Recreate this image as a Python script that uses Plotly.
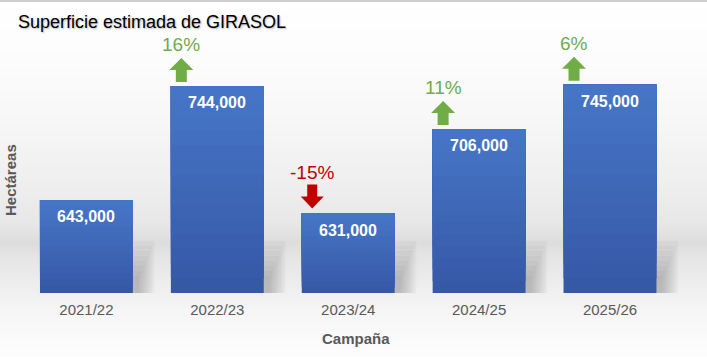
import plotly.graph_objects as go

# ---------------- data ----------------
campaigns = ["2021/22", "2022/23", "2023/24", "2024/25", "2025/26"]
hectares = [643000, 744000, 631000, 706000, 745000]
pct_change = [None, 16, -15, 11, 6]

title_text = "Superficie estimada de GIRASOL"
x_title = "Campaña"
y_title = "Hectáreas"

# ---------------- layout constants ----------------
W, H = 707, 357
ML, MR, MT, MB = 21, 29, 30, 64
PLOT_H = H - MT - MB
PLOT_W = W - ML - MR
Y_MIN, Y_MAX = 560600, 793600


def py(pix):  # page pixel y -> paper y
    return (H - MB - pix) / PLOT_H


def px(pix):  # page pixel x -> paper x
    return (pix - ML) / PLOT_W


fig = go.Figure()

# ---- bars with vertical gradient (overlayed slices) ----
N = 14
top_c = (70, 117, 199)
bot_c = (54, 89, 166)
for k in range(N):
    t = k / (N - 1)
    col = tuple(round(bot_c[i] + (top_c[i] - bot_c[i]) * t) for i in range(3))
    bases = [Y_MIN + (v - Y_MIN) * k / N for v in hectares]
    fig.add_trace(go.Bar(
        x=campaigns, y=[v - b for v, b in zip(hectares, bases)], base=bases,
        marker=dict(color="rgb(%d,%d,%d)" % col, line=dict(width=0)),
        width=0.71, hoverinfo="skip", showlegend=False,
    ))

shapes = []
# ---- background gradient bands ----
stops = [(0, 255), (60, 252), (120, 247), (180, 239), (225, 231), (243, 220),
         (255, 228), (275, 234), (293, 240), (315, 246), (357, 253)]


def shade(p):
    for (a, ca), (b, cb) in zip(stops[:-1], stops[1:]):
        if a <= p <= b:
            return ca + (cb - ca) * (p - a) / (b - a)
    return 255


step = 3
for p in range(0, H, step):
    c = round(shade(p + step / 2))
    shapes.append(dict(type="rect", xref="paper", yref="paper",
                       x0=px(0), x1=px(W), y0=py(p + step), y1=py(p),
                       fillcolor="rgb(%d,%d,%d)" % (c, c, c), line=dict(width=0),
                       layer="below"))
# top border line
shapes.append(dict(type="rect", xref="paper", yref="paper",
                   x0=px(0), x1=px(W), y0=py(2), y1=py(0),
                   fillcolor="#CFCFCF", line=dict(width=0), layer="below"))

# ---- soft shadows to the right of bars ----
for cat in campaigns:
    for j in range(8):
        shapes.append(dict(type="rect", xref="x", yref="y",
                           xsizemode="pixel", ysizemode="pixel",
                           xanchor=cat, yanchor=Y_MIN,
                           x0=46, x1=68 - 2.2 * j, y0=0, y1=52 - 5 * j,
                           fillcolor="rgba(60,60,60,0.045)", line=dict(width=0),
                           layer="below"))

# ---- arrows & labels ----
OFF = -36  # horizontal offset (px) of arrows / percent labels from bar centre
up_pts = [(-5.5, 4), (5.5, 4), (5.5, 16), (12, 16), (0, 28), (-12, 16), (-5.5, 16)]
down_pts = [(0, 5), (11.5, 17), (5, 17), (5, 29), (-5, 29), (-5, 17), (-11.5, 17)]


def path_of(pts):
    return "M " + " L ".join("%g,%g" % (x + OFF, y) for x, y in pts) + " Z"


GREEN = "#70AD47"
GREEN_TXT = "#6FAC4C"
RED = "#C00000"

annotations = []
for cat, v, pc in zip(campaigns, hectares, pct_change):
    annotations.append(dict(x=cat, y=v, xref="x", yref="y", text=f"{v:,}",
                            showarrow=False, yanchor="middle", yshift=-17,
                            font=dict(family="Liberation Sans, Arial", size=16,
                                      color="white", weight="bold")))
    if pc is None:
        continue
    up = pc > 0
    shapes.append(dict(type="path", xref="x", yref="y",
                       xsizemode="pixel", ysizemode="pixel",
                       xanchor=cat, yanchor=v,
                       path=path_of(up_pts if up else down_pts),
                       fillcolor=GREEN if up else RED, line=dict(width=0),
                       layer="above"))
    annotations.append(dict(x=cat, y=v, xref="x", yref="y", text=f"{pc}%",
                            showarrow=False, yanchor="bottom", yshift=29,
                            xshift=OFF,
                            font=dict(family="Liberation Sans, Arial", size=19,
                                      color=GREEN_TXT if up else RED)))

# axis titles
annotations.append(dict(x=px(10), y=py(180), xref="paper", yref="paper",
                        xanchor="center", yanchor="middle",
                        text=y_title, textangle=-90, showarrow=False,
                        font=dict(family="Liberation Sans, Arial", size=15,
                                  color="#595959", weight="bold")))
annotations.append(dict(x=px(356), y=py(338), xref="paper", yref="paper",
                        xanchor="center", yanchor="middle",
                        text=x_title, showarrow=False,
                        font=dict(family="Liberation Sans, Arial", size=15,
                                  color="#595959", weight="bold")))

fig.update_layout(
    width=W, height=H,
    margin=dict(l=ML, r=MR, t=MT, b=MB, pad=0),
    barmode="overlay", bargap=0.29,
    paper_bgcolor="white", plot_bgcolor="rgba(0,0,0,0)",
    title=dict(text=title_text, x=18 / W, xanchor="left", xref="container",
               y=1 - 22 / H, yanchor="middle", yref="container",
               font=dict(family="Liberation Sans, Arial", size=18, color="#000000",
                         shadow="1px 1px 2px rgba(0,0,0,0.3)")),
    xaxis=dict(type="category", showgrid=False, zeroline=False, showline=False,
               ticks="", ticklabelstandoff=6,
               tickfont=dict(family="Liberation Sans, Arial", size=15, color="#595959")),
    yaxis=dict(range=[Y_MIN, Y_MAX], showgrid=False, zeroline=False,
               showline=False, showticklabels=False, ticks=""),
    shapes=shapes, annotations=annotations, showlegend=False,
)

fig.write_html("out.html", config={"displayModeBar": False},
               post_script="document.body.style.margin='0';document.body.style.overflow='hidden';")
